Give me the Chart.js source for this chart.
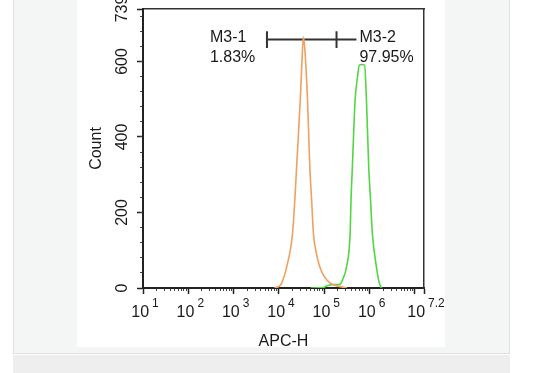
<!DOCTYPE html>
<html>
<head>
<meta charset="utf-8">
<script src="https://cdn.jsdelivr.net/npm/chart.js@4"></script>
<style>
html, body { margin: 0; padding: 0; background: #fff; width: 555px; height: 373px; overflow: hidden; position: relative; }
#panel { position: absolute; left: 13px; top: -2px; width: 495px; height: 355px; background: #f4f5f5; border: 1px solid #dfe1e1; border-top: none; }
#band { position: absolute; left: 13px; top: 355px; width: 497px; height: 18px; background: #edeeed; }
#box { position: absolute; left: 77px; top: 0; width: 368px; height: 347px; background: #fff; }
canvas { display: block; }
</style>
</head>
<body>
<div id="panel"></div>
<div id="band"></div>
<div id="box"><canvas id="histo" width="368" height="347"></canvas></div>
<script>
// APC-H intensity (x) and event counts (y)
const orangeApc = [7943, 10000, 11482, 14791, 19953, 22387, 24547, 29512, 33113, 34674, 37154, 42658, 47863, 52481, 57544, 66069, 79433, 100000, 134896, 199526, 316228];
const orangeCount = [0, 4, 13, 56, 145, 234, 322, 498, 634, 665, 634, 498, 322, 234, 145, 95, 56, 30, 13, 5, 0];

const greenApc = [50119, 93325, 114815, 158489, 223872, 251189, 309030, 371535, 389045, 416869, 478630, 549541, 588844, 676083, 776247, 851138, 954993, 1047129, 1148154, 1412538, 1621810, 1819701];
const greenCount = [0, 1, 6, 9, 10, 21, 56, 145, 234, 322, 498, 565, 590, 592, 590, 498, 322, 234, 145, 56, 15, 0];

// gate markers
const gateStart = 5433;
const gateSplit = 186209;
const gateEnd = 512861;
const gateLevel = 658;
const gateTickTop = 680;
const gateTickBottom = 636;
const gateNames = ['M3-1', 'M3-2'];
const gatePercents = ['1.83%', '97.95%'];

// axes
const xMin = 10;
const xMax = 15848932; // 10^7.2
const xMajor = [10, 100, 1000, 10000, 100000, 1000000, 10000000, 15848932];
const xLabelValues = [10, 100, 1000, 10000, 100000, 1000000, 15848932];
const xLabelExps = ['1', '2', '3', '4', '5', '6', '7.2'];
const yMax = 739;
const yMajor = [0, 200, 400, 600, 739];
const yLabels = ['0', '200', '400', '600', '739'];

const xMinor = [];
for (let d = 10; d < xMax; d *= 10) {
    for (let k = 2; k <= 9; k++) {
        if (d * k < xMax) xMinor.push(d * k);
    }
}
const yMinor = [];
for (let v = 40; v < yMax; v += 40) yMinor.push(v);

const FONT = '"Liberation Sans", Arial, Helvetica, sans-serif';

function toPoints(xs, ys) {
    return xs.map((x, i) => ({x: x, y: ys[i]}));
}

const zeroH = s => { s.height = 0; };
const zeroW = s => { s.width = 0; };

const textPlugin = {
    id: 'textPlugin',
    afterDraw(chart) {
        const {ctx, chartArea: a} = chart;
        const x = chart.scales.x;
        const y = chart.scales.y;
        ctx.save();
        ctx.fillStyle = '#1a1a1a';

        // x tick labels: 10 with superscript exponent
        xLabelValues.forEach((v, i) => {
            const px = x.getPixelForValue(v);
            ctx.font = '16px ' + FONT;
            const wBase = ctx.measureText('10').width;
            ctx.font = '12px ' + FONT;
            const wExp = ctx.measureText(xLabelExps[i]).width;
            const start = px - (wBase + 3 + wExp) / 2 + 2;
            ctx.textAlign = 'left';
            ctx.textBaseline = 'alphabetic';
            ctx.font = '16px ' + FONT;
            ctx.fillText('10', start, a.bottom + 29);
            ctx.font = '12px ' + FONT;
            ctx.fillText(xLabelExps[i], start + wBase + 3, a.bottom + 19);
        });

        // y tick labels, rotated
        ctx.font = '16px ' + FONT;
        ctx.textAlign = 'center';
        yMajor.forEach((v, i) => {
            const py = y.getPixelForValue(v);
            ctx.save();
            ctx.translate(a.left - 16, py);
            ctx.rotate(-Math.PI / 2);
            ctx.fillText(yLabels[i], 0, 0);
            ctx.restore();
        });

        // axis titles
        ctx.save();
        ctx.translate(a.left - 42, (a.top + a.bottom) / 2);
        ctx.rotate(-Math.PI / 2);
        ctx.fillText('Count', 0, 0);
        ctx.restore();
        ctx.fillText('APC-H', (a.left + a.right) / 2, a.bottom + 58);

        // gate labels
        const gy = y.getPixelForValue(gateLevel);
        ctx.textAlign = 'left';
        const g1 = x.getPixelForValue(gateStart) - 57;
        ctx.fillText(gateNames[0], g1, gy + 2);
        ctx.fillText(gatePercents[0], g1, gy + 22);
        const g2 = x.getPixelForValue(gateEnd) + 3;
        ctx.fillText(gateNames[1], g2, gy + 2);
        ctx.fillText(gatePercents[1], g2, gy + 22);
        ctx.restore();
    }
};

const gateStyle = {showLine: true, pointRadius: 0, borderColor: '#333', borderWidth: 2, tension: 0};

new Chart(document.getElementById('histo'), {
    type: 'scatter',
    data: {
        datasets: [
            {
                label: 'Control',
                data: toPoints(orangeApc, orangeCount),
                showLine: true,
                pointRadius: 0,
                borderColor: '#f0a060',
                borderWidth: 1.6,
                cubicInterpolationMode: 'monotone'
            },
            {
                label: 'Sample',
                data: toPoints(greenApc, greenCount),
                showLine: true,
                pointRadius: 0,
                borderColor: '#52d642',
                borderWidth: 1.6,
                cubicInterpolationMode: 'monotone'
            },
            Object.assign({label: 'gate', data: [{x: gateStart, y: gateLevel}, {x: gateEnd, y: gateLevel}]}, gateStyle),
            Object.assign({label: 'gate-l', data: [{x: gateStart, y: gateTickTop}, {x: gateStart, y: gateTickBottom}]}, gateStyle),
            Object.assign({label: 'gate-m', data: [{x: gateSplit, y: gateTickTop}, {x: gateSplit, y: gateTickBottom}]}, gateStyle)
        ]
    },
    options: {
        responsive: false,
        animation: false,
        layout: {padding: {left: 66, right: 21, top: 9, bottom: 59}},
        plugins: {
            legend: {display: false},
            tooltip: {enabled: false}
        },
        scales: {
            x: {
                type: 'logarithmic', position: 'bottom', min: xMin, max: xMax,
                afterFit: zeroH,
                afterBuildTicks: s => { s.ticks = xMajor.map(v => ({value: v})); },
                ticks: {display: false},
                grid: {drawOnChartArea: false, tickLength: 6, tickColor: '#222', tickWidth: 1.5},
                border: {color: '#222', width: 2}
            },
            xMinor: {
                type: 'logarithmic', position: 'bottom', min: xMin, max: xMax,
                afterFit: zeroH,
                afterBuildTicks: s => { s.ticks = xMinor.map(v => ({value: v})); },
                ticks: {display: false},
                grid: {drawOnChartArea: false, tickLength: 3, tickColor: '#444', tickWidth: 1},
                border: {display: false}
            },
            xTop: {
                type: 'logarithmic', position: 'top', min: xMin, max: xMax,
                afterFit: zeroH,
                ticks: {display: false},
                grid: {display: false},
                border: {color: '#333', width: 1.5}
            },
            y: {
                type: 'linear', position: 'left', min: 0, max: yMax,
                afterFit: zeroW,
                afterBuildTicks: s => { s.ticks = yMajor.map(v => ({value: v})); },
                ticks: {display: false},
                grid: {drawOnChartArea: false, tickLength: 6, tickColor: '#222', tickWidth: 1.5},
                border: {color: '#222', width: 2}
            },
            yMinor: {
                type: 'linear', position: 'left', min: 0, max: yMax,
                afterFit: zeroW,
                afterBuildTicks: s => { s.ticks = yMinor.map(v => ({value: v})); },
                ticks: {display: false},
                grid: {drawOnChartArea: false, tickLength: 3, tickColor: '#444', tickWidth: 1},
                border: {display: false}
            },
            yRight: {
                type: 'linear', position: 'right', min: 0, max: yMax,
                afterFit: zeroW,
                ticks: {display: false},
                grid: {display: false},
                border: {color: '#333', width: 1.5}
            }
        }
    },
    plugins: [textPlugin]
});
</script>
</body>
</html>
